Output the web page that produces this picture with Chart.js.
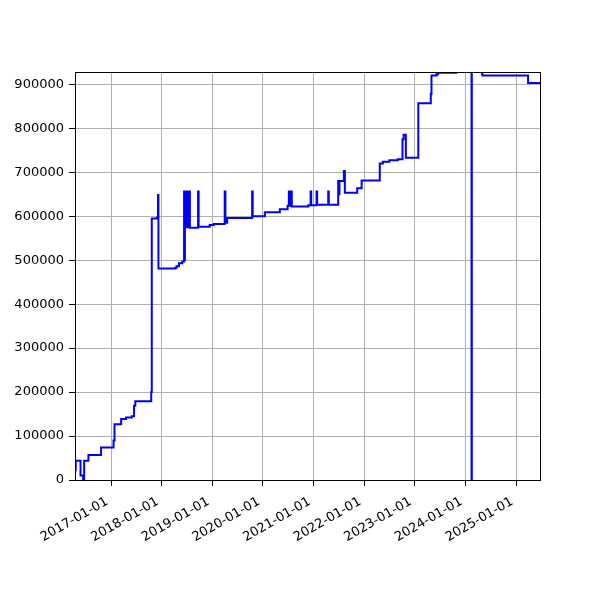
<!DOCTYPE html>
<html>
<head>
<meta charset="utf-8">
<script src="https://cdn.jsdelivr.net/npm/chart.js@4"></script>
<style>
  html, body { margin: 0; padding: 0; background: #fff; }
</style>
</head>
<body>
<canvas id="myChart" width="600" height="600"></canvas>
<script>
// change points: value holds from this date on
const dates = [
  '2016-04-15', '2016-04-20', '2016-05-25', '2016-06-13', '2016-06-20', '2016-07-21',
  '2016-10-20', '2017-01-18', '2017-01-25', '2017-03-14', '2017-04-18', '2017-05-29',
  '2017-06-15', '2017-06-24', '2017-10-17', '2017-10-21', '2017-11-28', '2017-12-05',
  '2017-12-08', '2018-04-09', '2018-04-18', '2018-05-05', '2018-05-29',
  '2018-06-11', '2018-06-14', '2018-06-17', '2018-06-22', '2018-06-26', '2018-06-30',
  '2018-07-04', '2018-07-09', '2018-07-13', '2018-07-17', '2018-07-20', '2018-07-23',
  '2018-09-20', '2018-09-24', '2018-12-13', '2019-01-12', '2019-03-31', '2019-04-05',
  '2019-04-18', '2019-10-15', '2019-10-19', '2020-01-15', '2020-05-02', '2020-06-27',
  '2020-07-06', '2020-07-10', '2020-07-23', '2020-07-27', '2020-11-23', '2020-12-10',
  '2020-12-14', '2021-01-22', '2021-01-26', '2021-04-16', '2021-04-20', '2021-06-27',
  '2021-07-03', '2021-07-06', '2021-08-07', '2021-08-14', '2021-11-11', '2021-12-13',
  '2022-04-23', '2022-05-15', '2022-07-01', '2022-08-31', '2022-10-04', '2022-10-12',
  '2022-10-28', '2023-01-26', '2023-04-26', '2023-05-01', '2023-06-06', '2023-06-18',
  '2023-10-28', '2024-02-14', '2024-02-16', '2024-04-30', '2024-05-05', '2025-03-28',
  '2025-06-22'
];
const values = [
  22000, 44000, 10000, 0, 44000, 57000,
  74000, 90000, 127000, 139000, 142000, 145000,
  169000, 179000, 200000, 595000, 597000, 648000,
  481000, 483000, 486000, 493000, 497000,
  656000, 500000, 656000, 575000, 656000, 575000,
  656000, 578000, 656000, 575000, 656000, 574000,
  656000, 576000, 580000, 582000, 656000, 585000,
  596000, 656000, 600000, 609000, 616000, 624000,
  656000, 624000, 656000, 622000, 625000, 656000,
  625000, 656000, 626000, 656000, 626000, 680000,
  650000, 680000, 703000, 653600, 663600, 681000,
  720000, 724000, 727000, 729500, 775000, 785000,
  733000, 857000, 878000, 920000, 923000, 926500,
  960000, 0, 960000, 922000, 920000, 903000,
  903000
];
const xStart = '2016-04-15';
const xEnd = '2025-06-22';
const yMax = 928000;
const yTicks = [0, 100000, 200000, 300000, 400000, 500000, 600000, 700000, 800000, 900000];
const xTickYears = [2017, 2018, 2019, 2020, 2021, 2022, 2023, 2024, 2025];

const toMs = s => Date.parse(s + 'T00:00:00Z');
const pad2 = n => String(n).padStart(2, '0');
const fmtDate = ms => {
  const d = new Date(ms);
  return d.getUTCFullYear() + '-' + pad2(d.getUTCMonth() + 1) + '-' + pad2(d.getUTCDate());
};

const points = dates.map((d, i) => ({ x: toMs(d), y: values[i] }));

const frame = {
  id: 'frame',
  afterDatasetsDraw(chart) {
    const a = chart.chartArea;
    const c = chart.ctx;
    c.save();
    c.strokeStyle = '#000';
    c.lineWidth = 1;
    c.strokeRect(Math.round(a.left) + 0.5, Math.round(a.top) + 0.5,
      Math.round(a.right - a.left), Math.round(a.bottom - a.top));
    c.restore();
  }
};

Chart.defaults.font.family = "'DejaVu Sans', sans-serif";
Chart.defaults.font.size = 13;
Chart.defaults.color = '#000';

const ctx = document.getElementById('myChart').getContext('2d');
const myChart = new Chart(ctx, {
  type: 'line',
  data: {
    datasets: [{
      data: points,
      borderColor: '#0000ff',
      borderWidth: 2,
      pointRadius: 0,
      stepped: true,
      fill: false
    }]
  },
  options: {
    responsive: false,
    animation: false,
    layout: { padding: { left: 0, top: 72, right: 60, bottom: 0 } },
    plugins: { legend: { display: false }, tooltip: { enabled: false } },
    scales: {
      x: {
        type: 'linear',
        min: toMs(xStart),
        max: toMs(xEnd),
        afterBuildTicks: s => { s.ticks = xTickYears.map(y => ({ value: toMs(y + '-01-01') })); },
        afterFit: s => { s.height = 120; },
        grid: { color: '#b0b0b0', lineWidth: 1, tickColor: '#000', tickLength: 6 },
        border: { color: '#000', width: 1 },
        ticks: {
          minRotation: 30, maxRotation: 30, padding: 8, labelOffset: -4,
          callback: v => fmtDate(v)
        }
      },
      y: {
        min: 0,
        max: yMax,
        afterBuildTicks: s => { s.ticks = yTicks.map(v => ({ value: v })); },
        afterFit: s => { s.width = 75; },
        grid: { color: '#b0b0b0', lineWidth: 1, tickColor: '#000', tickLength: 6 },
        border: { color: '#000', width: 1 },
        ticks: { padding: 5, callback: v => String(v) }
      }
    }
  },
  plugins: [frame]
});
</script>
</body>
</html>
